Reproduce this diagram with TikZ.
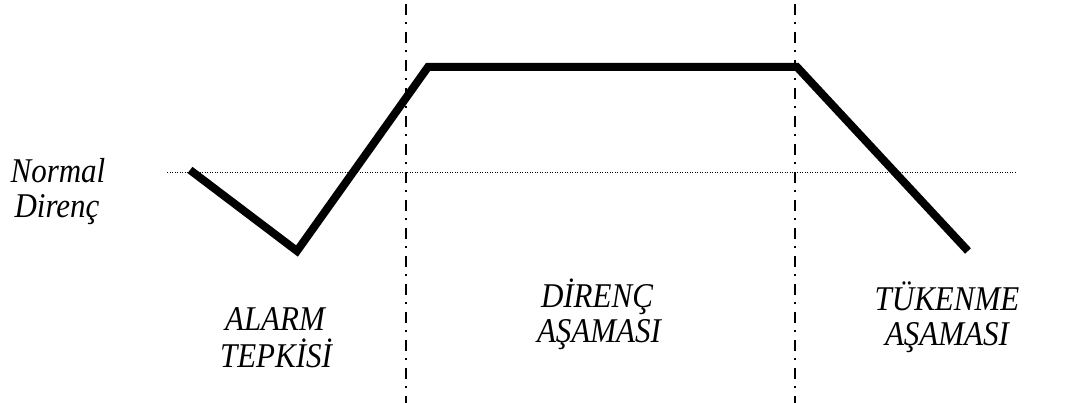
\documentclass[tikz,border=0pt]{standalone}
\usepackage{fontspec}
\setmainfont{Liberation Serif}
\newcommand{\tallt}[1]{\scalebox{1}[1.12]{#1}}
\begin{document}
\begin{tikzpicture}[x=1pt,y=-1pt,
  lbl/.style={font=\fontsize{31}{36}\selectfont\itshape, anchor=base, inner sep=0pt},
  phase/.style={line width=2pt, dash pattern=on 11pt off 7pt on 2pt off 8pt},
  normline/.style={line width=0.8pt, dash pattern=on 1pt off 1.5pt},
  curve/.style={line width=8pt, line join=miter}]
\useasboundingbox (0,0) rectangle (1075,403);
% phase separators
\coordinate (s1t) at (406,4); \coordinate (s1b) at (406,403);
\coordinate (s2t) at (795,4); \coordinate (s2b) at (795,403);
\draw[phase] (s1t) -- (s1b);
\draw[phase] (s2t) -- (s2b);
% normal resistance level
\coordinate (n1) at (167,172); \coordinate (n2) at (1015,172);
\draw[normline] (n1) -- (n2);
% resistance curve
\coordinate (p1) at (190,170);
\coordinate (p2) at (297,251);
\coordinate (p3) at (428,67);
\coordinate (p4) at (797,67);
\coordinate (p5) at (968,251);
\draw[curve] (p1) -- (p2) -- (p3) -- (p4) -- (p5);
% labels
\node[lbl] (nl1) at (58,183) {\tallt{Normal}};
\node[lbl] (nl2) at (57,218) {\tallt{Direnç}};
\node[lbl] (a1) at (275,330) {\tallt{ALARM}};
\node[lbl] (a2) at (276,367) {\tallt{TEPKİSİ}};
\node[lbl] (d1) at (597,307) {\tallt{DİRENÇ}};
\node[lbl] (d2) at (599,342) {\tallt{AŞAMASI}};
\node[lbl] (t1) at (947,310) {\tallt{TÜKENME}};
\node[lbl] (t2) at (947,345) {\tallt{AŞAMASI}};
\end{tikzpicture}
\end{document}
